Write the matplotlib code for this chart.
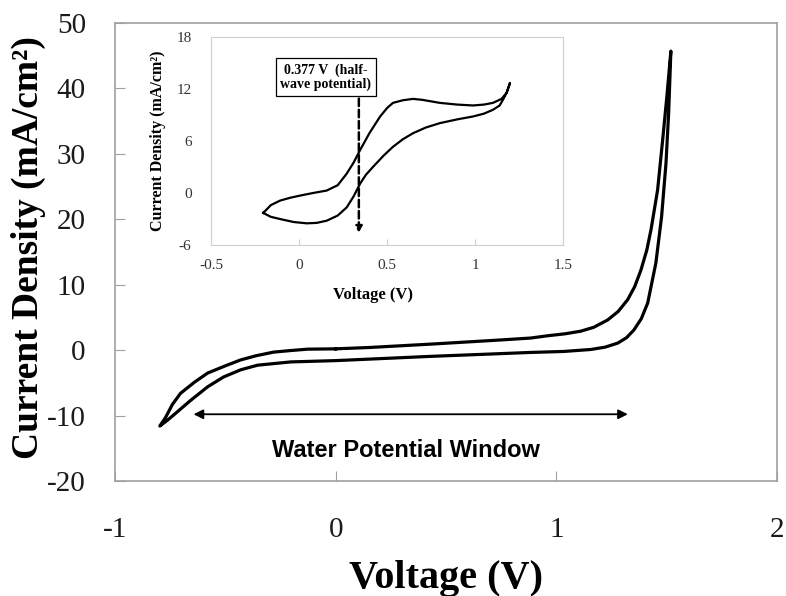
import matplotlib
matplotlib.use('Agg')
import matplotlib.pyplot as plt

plt.rcParams['font.family'] = ['Liberation Serif', 'DejaVu Serif']
plt.rcParams['axes.unicode_minus'] = False

# main CV scan (V, mA/cm2), starts at 0 V and goes positive first
volt = [0.0, 0.15, 0.431, 0.735, 0.884, 0.961, 1.04, 1.111, 1.17, 1.232, 1.28, 1.323, 1.355, 1.383,
        1.41, 1.429, 1.459, 1.482, 1.501, 1.519,
        1.509, 1.497, 1.477, 1.451, 1.414, 1.385, 1.351, 1.318, 1.278, 1.22, 1.156, 1.034, 0.884,
        0.735, 0.431, 0.2, 0.0, -0.204, -0.354, -0.43, -0.508, -0.58, -0.658, -0.72, -0.762, -0.797,
        -0.771, -0.74, -0.703, -0.64, -0.580, -0.50, -0.431, -0.36, -0.281, -0.2, -0.127, 0.0]
curr = [0.2, 0.4, 0.92, 1.53, 1.85, 2.2, 2.5, 2.9, 3.5, 4.6, 5.9, 7.7, 9.7, 12.2,
        15.3, 18.4, 24.5, 32.2, 38.8, 45.7,
        36.3, 28.6, 20.4, 13.3, 7.2, 4.8, 3.06, 1.9, 1.07, 0.45, 0.1, -0.2, -0.35,
        -0.55, -0.95, -1.3, -1.6, -1.8, -2.3, -3.0, -4.1, -5.6, -7.7, -9.5, -10.7, -11.6,
        -10.3, -8.3, -6.6, -4.9, -3.5, -2.4, -1.5, -0.85, -0.3, -0.05, 0.15, 0.2]

# inset CV (V, mA/cm2)
ins_volt = [-0.203, -0.16, -0.108, -0.03, 0.044, 0.1, 0.157, 0.22, 0.271, 0.31, 0.347, 0.38, 0.42,
            0.48, 0.534, 0.59, 0.648, 0.72, 0.80, 0.9, 0.989, 1.05, 1.102, 1.14, 1.16, 1.18, 1.199,
            1.18, 1.15, 1.102, 1.05, 0.989, 0.9, 0.80, 0.70, 0.648, 0.59, 0.534, 0.5, 0.46, 0.40,
            0.347, 0.31, 0.271, 0.22, 0.157, 0.08, 0.006, -0.05, -0.108, -0.16, -0.203]
ins_curr = [-2.3, -2.75, -3.0, -3.35, -3.5, -3.45, -3.2, -2.6, -1.66, -0.4, 1.07, 2.1, 3.0,
            4.3, 5.33, 6.2, 6.9, 7.55, 8.06, 8.5, 8.83, 9.15, 9.6, 10.1, 10.8, 11.6, 12.7,
            11.55, 10.85, 10.4, 10.2, 10.1, 10.2, 10.4, 10.75, 10.86, 10.7, 10.4, 9.8, 8.8, 6.9,
            4.95, 3.5, 2.23, 0.9, 0.28, 0.0, -0.3, -0.55, -0.88, -1.4, -2.3]

half_wave = 0.34
window = [-0.644, 1.324]

fig = plt.figure(figsize=(7.86, 5.96), dpi=100)
ax = fig.add_axes([115/786, 1-481/596, 662/786, 458/596])

ax.plot(volt, curr, c='k', lw=2.3, solid_joinstyle='round')
ax.set_xlim(-1, 2)
ax.set_ylim(-20, 50)
ax.set_xticks([-1, 0, 1, 2])
ax.set_yticks(range(-20, 51, 10))
for s in ax.spines.values():
    s.set_color('#a0a0a0')
    s.set_linewidth(1.2)
ax.tick_params(axis='both', direction='in', length=7, color='#a0a0a0', labelsize=21, labelcolor='#1a1a1a')
ax.tick_params(axis='x', pad=26)
ax.tick_params(axis='y', pad=21)
ax.set_xlabel('Voltage (V)', fontsize=29, fontweight='bold')
ax.set_ylabel('Current Density (mA/cm²)', fontsize=27, fontweight='bold')
ax.yaxis.set_label_coords(-0.104, 0.51)
ax.xaxis.set_label_coords(0.5, -0.172)

ax.annotate('', xy=(window[0], -9.8), xytext=(window[1], -9.8),
            arrowprops=dict(arrowstyle='<|-|>', color='k', lw=1.3, mutation_scale=14, shrinkA=0, shrinkB=0))
ax.text(0.317, -15.3, 'Water Potential Window', ha='center', va='center',
        fontsize=17, fontweight='bold', family='Liberation Sans')

# inset
axi = fig.add_axes([211/786, 1-245/596, 352/786, 208/596])
axi.plot(ins_volt, ins_curr, c='k', lw=1.6)
axi.set_xlim(-0.5, 1.5)
axi.set_ylim(-6, 18)
axi.set_xticks([-0.5, 0, 0.5, 1, 1.5])
axi.set_xticklabels(['-0.5', '0', '0.5', '1', '1.5'])
axi.set_yticks([-6, 0, 6, 12, 18])
for s in axi.spines.values():
    s.set_color('#d0d0d0')
axi.tick_params(axis='both', direction='in', length=4, color='#d0d0d0', labelsize=11, labelcolor='#333333')
axi.tick_params(axis='x', pad=10)
axi.tick_params(axis='y', pad=14, length=0)
axi.set_xlabel('Voltage (V)', fontsize=12, fontweight='bold')
axi.set_ylabel('Current Density (mA/cm²)', fontsize=11.5, fontweight='bold')
axi.xaxis.set_label_coords(0.46, -0.2)
axi.yaxis.set_label_coords(-0.128, 0.5)

axi.annotate('', xy=(half_wave, -4.6), xytext=(half_wave, 10.9),
             arrowprops=dict(arrowstyle='-|>', color='k', lw=1.8, ls=(0, (3, 1.5)), mutation_scale=9,
                             shrinkA=0, shrinkB=0))
axi.text(0.153, 13.35, '0.377 V  (half-\nwave potential)', ha='center', va='center', fontsize=10,
         fontweight='bold', linespacing=1.1,
         bbox=dict(boxstyle='square,pad=0.35', fc='white', ec='k', lw=0.9))

fig.savefig('out.png', dpi=100)
